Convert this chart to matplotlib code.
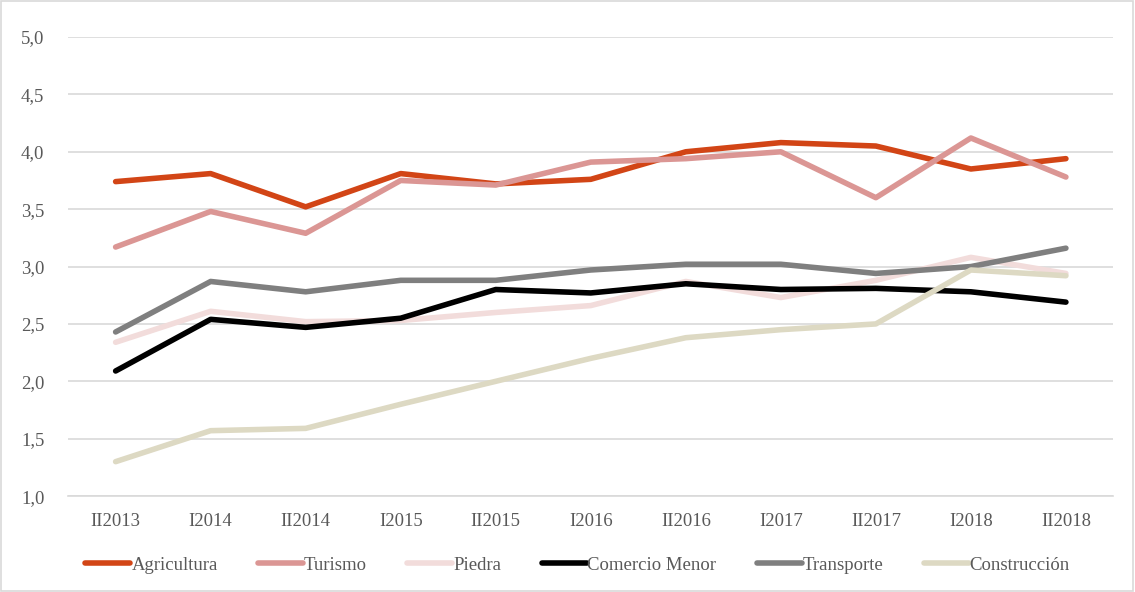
import matplotlib
matplotlib.use('Agg')
import matplotlib.pyplot as plt
from matplotlib.patches import Rectangle
from matplotlib.ticker import FuncFormatter

# ------------ Data ---------------
periods = ['II2013', 'I2014', 'II2014', 'I2015', 'II2015', 'I2016',
           'II2016', 'I2017', 'II2017', 'I2018', 'II2018']

agricultura = [3.74, 3.81, 3.52, 3.81, 3.72, 3.76, 4.00, 4.08, 4.05, 3.85, 3.94]
turismo = [3.17, 3.48, 3.29, 3.75, 3.71, 3.91, 3.94, 4.00, 3.60, 4.12, 3.78]
piedra = [2.34, 2.61, 2.52, 2.53, 2.60, 2.66, 2.87, 2.73, 2.88, 3.08, 2.94]
comercio = [2.09, 2.54, 2.47, 2.55, 2.80, 2.77, 2.85, 2.80, 2.81, 2.78, 2.69]
transporte = [2.43, 2.87, 2.78, 2.88, 2.88, 2.97, 3.02, 3.02, 2.94, 3.00, 3.16]
construccion = [1.30, 1.57, 1.59, 1.80, 2.00, 2.20, 2.38, 2.45, 2.50, 2.97, 2.92]

series = [
    ('Agricultura', agricultura, '#D24516'),
    ('Turismo', turismo, '#DB9694'),
    ('Piedra', piedra, '#F2DCDB'),
    ('Comercio Menor', comercio, '#000000'),
    ('Transporte', transporte, '#7F7F7F'),
    ('Construcción', construccion, '#DDD9C3'),
]

TEXT = '#595959'
GRID = '#D9D9D9'

plt.rcParams['font.family'] = ['Liberation Serif', 'DejaVu Serif']

# ------------ Plot ---------------
fig = plt.figure(figsize=(11.35, 5.92), dpi=100)
ax = fig.add_axes([0.060, 0.162, 0.921, 0.7755])

x = list(range(len(periods)))
for name, vals, col in series:
    ax.plot(x, vals, color=col, lw=4.0, label=name,
            solid_capstyle='round', solid_joinstyle='round')

ax.set_xlim(-0.5, len(periods) - 0.5)
ax.set_ylim(1.0, 5.0)
ax.set_yticks([1.0, 1.5, 2.0, 2.5, 3.0, 3.5, 4.0, 4.5, 5.0])
ax.yaxis.set_major_formatter(FuncFormatter(lambda v, p: f'{v:.1f}'.replace('.', ',')))
ax.set_xticks(x)
ax.set_xticklabels(periods)

ax.grid(axis='y', color=GRID, lw=1.2)
ax.set_axisbelow(True)
for s in ['top', 'right', 'left']:
    ax.spines[s].set_visible(False)
ax.spines['bottom'].set_color(GRID)
ax.spines['bottom'].set_linewidth(1.2)
ax.tick_params(axis='both', length=0, labelsize=13.5, labelcolor=TEXT)
ax.tick_params(axis='y', pad=17)
ax.tick_params(axis='x', pad=12)

leg = fig.legend(loc='center', bbox_to_anchor=(0.509, 0.045), ncol=6,
                 frameon=False, fontsize=13.5, handlelength=2.4,
                 handletextpad=0.05, columnspacing=2.15)
for t in leg.get_texts():
    t.set_color(TEXT)

# outer border
fig.patches.append(Rectangle((0.001, 0.002), 0.997, 0.996, transform=fig.transFigure,
                             fill=False, edgecolor=GRID, lw=1.2))

fig.savefig('out.png', dpi=100)
